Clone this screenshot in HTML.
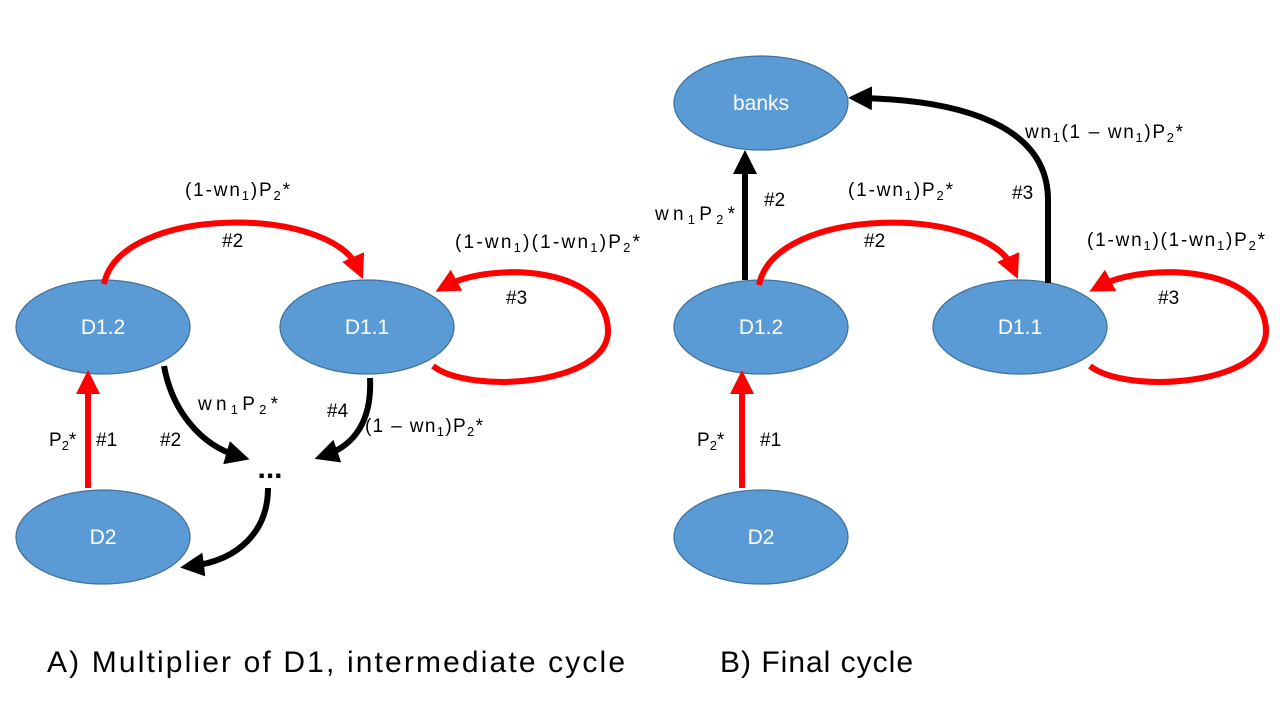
<!DOCTYPE html>
<html><head><meta charset="utf-8"><style>
html,body{margin:0;padding:0;background:#fff;}
svg{display:block;font-family:"Liberation Sans",sans-serif;}
.node{fill:#5b9bd5;stroke:#41719c;stroke-width:1.3;}
.nt{fill:#fff;font-size:21px;text-anchor:middle;}
.lb{fill:#000;font-size:19px;}
.cap{fill:#000;font-size:30px;}
.red{fill:none;stroke:#ff0000;stroke-width:6;}
.blk{fill:none;stroke:#000;stroke-width:6;}
</style></head><body>
<svg width="1280" height="720" viewBox="0 0 1280 720">
<defs>
<marker id="ar" markerWidth="4" markerHeight="4" refX="2" refY="2" orient="auto" markerUnits="strokeWidth"><path d="M0,0 L4,2 L0,4 z" fill="#ff0000"/></marker>
<marker id="ab" markerWidth="4" markerHeight="4" refX="2" refY="2" orient="auto" markerUnits="strokeWidth"><path d="M0,0 L4,2 L0,4 z" fill="#000"/></marker>
</defs>

<g>
<ellipse class="node" cx="103" cy="327" rx="87" ry="47"/>
<text class="nt" x="103" y="334">D1.2</text>
<ellipse class="node" cx="367" cy="327" rx="87" ry="47"/>
<text class="nt" x="367" y="334">D1.1</text>
<ellipse class="node" cx="103" cy="537" rx="87" ry="47"/>
<text class="nt" x="103" y="544">D2</text>

<path class="red" d="M88,488 L88,382" marker-end="url(#ar)"/>
<path class="red" d="M104,284 C120,205 330,205 358,268" marker-end="url(#ar)"/>
<path class="red" d="M433,366 C470,395 610,385 608,330 C606,265 490,262 446,286" marker-end="url(#ar)"/>
<path class="blk" d="M164,366 C172,410 200,445 238,456" marker-end="url(#ab)"/>
<path class="blk" d="M370,378 C372,420 355,445 326,455" marker-end="url(#ab)"/>
<path class="blk" d="M268,488 C268,530 240,560 192,566" marker-end="url(#ab)"/>
<text x="270" y="478" font-size="30" font-weight="bold" text-anchor="middle">...</text>

<text class="lb" x="185" y="196" textLength="105">(1-wn<tspan font-size="13" dy="4">1</tspan><tspan dy="-4">)P</tspan><tspan font-size="13" dy="4">2</tspan><tspan dy="-4">*</tspan></text>
<text class="lb" x="222" y="247">#2</text>
<text class="lb" x="455" y="248" textLength="185">(1-wn<tspan font-size="13" dy="4">1</tspan><tspan dy="-4">)(1-wn</tspan><tspan font-size="13" dy="4">1</tspan><tspan dy="-4">)P</tspan><tspan font-size="13" dy="4">2</tspan><tspan dy="-4">*</tspan></text>
<text class="lb" x="506" y="304">#3</text>
<text class="lb" x="198" y="410" textLength="80">wn<tspan font-size="13" dy="4">1</tspan><tspan dy="-4">P</tspan><tspan font-size="13" dy="4">2</tspan><tspan dy="-4">*</tspan></text>
<text class="lb" x="160" y="446">#2</text>
<text class="lb" x="327" y="417">#4</text>
<text class="lb" x="365" y="432" textLength="118">(1 – wn<tspan font-size="13" dy="4">1</tspan><tspan dy="-4">)P</tspan><tspan font-size="13" dy="4">2</tspan><tspan dy="-4">*</tspan></text>
<text class="lb" x="49" y="446">P<tspan font-size="13" dy="4">2</tspan><tspan dy="-4">*</tspan></text>
<text class="lb" x="96" y="446">#1</text>
<text class="cap" x="47" y="672" textLength="578">A) Multiplier of D1, intermediate cycle</text>
</g>

<g>
<ellipse class="node" cx="761" cy="103" rx="87" ry="47"/>
<text class="nt" x="761" y="110">banks</text>
<ellipse class="node" cx="761" cy="327" rx="87" ry="47"/>
<text class="nt" x="761" y="334">D1.2</text>
<ellipse class="node" cx="1020" cy="327" rx="87" ry="47"/>
<text class="nt" x="1020" y="334">D1.1</text>
<ellipse class="node" cx="761" cy="537" rx="87" ry="47"/>
<text class="nt" x="761" y="544">D2</text>

<path class="red" d="M742,488 L742,382" marker-end="url(#ar)"/>
<path class="blk" d="M745,280 L745,162" marker-end="url(#ab)"/>
<path class="red" d="M759,285 C775,205 985,205 1013,268" marker-end="url(#ar)"/>
<path class="blk" d="M1048,283 L1048,200 C1048,125 960,100 860,98" marker-end="url(#ab)"/>
<path class="red" d="M1090,366 C1127,395 1268,385 1266,330 C1264,265 1145,262 1100,286" marker-end="url(#ar)"/>

<text class="lb" x="655" y="220" textLength="80">wn<tspan font-size="13" dy="4">1</tspan><tspan dy="-4">P</tspan><tspan font-size="13" dy="4">2</tspan><tspan dy="-4">*</tspan></text>
<text class="lb" x="764" y="206">#2</text>
<text class="lb" x="848" y="196" textLength="105">(1-wn<tspan font-size="13" dy="4">1</tspan><tspan dy="-4">)P</tspan><tspan font-size="13" dy="4">2</tspan><tspan dy="-4">*</tspan></text>
<text class="lb" x="864" y="247">#2</text>
<text class="lb" x="1025" y="138" textLength="158">wn<tspan font-size="13" dy="4">1</tspan><tspan dy="-4">(1 – wn</tspan><tspan font-size="13" dy="4">1</tspan><tspan dy="-4">)P</tspan><tspan font-size="13" dy="4">2</tspan><tspan dy="-4">*</tspan></text>
<text class="lb" x="1012" y="199">#3</text>
<text class="lb" x="1087" y="246" textLength="178">(1-wn<tspan font-size="13" dy="4">1</tspan><tspan dy="-4">)(1-wn</tspan><tspan font-size="13" dy="4">1</tspan><tspan dy="-4">)P</tspan><tspan font-size="13" dy="4">2</tspan><tspan dy="-4">*</tspan></text>
<text class="lb" x="1158" y="304">#3</text>
<text class="lb" x="697" y="446">P<tspan font-size="13" dy="4">2</tspan><tspan dy="-4">*</tspan></text>
<text class="lb" x="760" y="446">#1</text>
<text class="cap" x="720" y="672" textLength="193">B) Final cycle</text>
</g>
</svg>
</body></html>
